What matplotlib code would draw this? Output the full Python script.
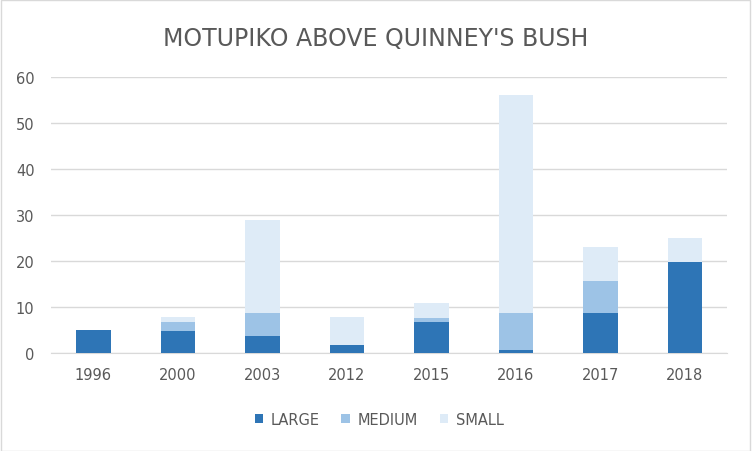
import matplotlib.pyplot as plt
import numpy as np

# Data
years = ['1996', '2000', '2003', '2012', '2015', '2016', '2017', '2018']
large = [5.0, 4.8, 3.7, 1.7, 6.7, 0.7, 8.7, 19.8]
medium = [0.0, 1.9, 5.0, 0.0, 0.9, 8.0, 7.0, 0.0]
small = [0.0, 1.1, 20.2, 6.1, 3.3, 47.4, 7.3, 5.2]

c_large = '#2E75B6'
c_medium = '#9DC3E6'
c_small = '#DEEBF7'
txt = '#595959'

fig = plt.figure(figsize=(7.52, 4.52), dpi=100)
ax = fig.add_axes([0.068, 0.217, 0.899, 0.6103])

x = np.arange(len(years))
w = 0.41
large = np.array(large)
medium = np.array(medium)
small = np.array(small)

ax.bar(x, large, w, color=c_large, label='LARGE', zorder=3)
ax.bar(x, medium, w, bottom=large, color=c_medium, label='MEDIUM', zorder=3)
ax.bar(x, small, w, bottom=large + medium, color=c_small, label='SMALL', zorder=3)

ax.set_xlim(-0.5, len(years) - 0.5)
ax.set_ylim(0, 60)
ax.set_yticks(range(0, 61, 10))
ax.set_xticks(x)
ax.set_xticklabels(years)
ax.grid(axis='y', color='#D9D9D9', linewidth=1, zorder=0)
for s in ['top', 'right', 'left']:
    ax.spines[s].set_visible(False)
ax.spines['bottom'].set_color('#D9D9D9')
ax.tick_params(axis='both', length=0, colors=txt, labelsize=10.5)
ax.tick_params(axis='x', pad=10)
ax.tick_params(axis='y', pad=12)

fig.suptitle("MOTUPIKO ABOVE QUINNEY'S BUSH", y=0.94, fontsize=17, color=txt)

fig.legend(loc='center', bbox_to_anchor=(0.504, 0.07), ncol=3, frameon=False,
           fontsize=10.5, labelcolor=txt, handlelength=0.6, handleheight=0.6,
           columnspacing=1.5, handletextpad=0.5)

# outer border
fig.patches.append(plt.Rectangle((0.001, 0.001), 0.997, 0.997, transform=fig.transFigure,
                                 fill=False, edgecolor='#D9D9D9', linewidth=1))

plt.savefig('out.png', dpi=100)
